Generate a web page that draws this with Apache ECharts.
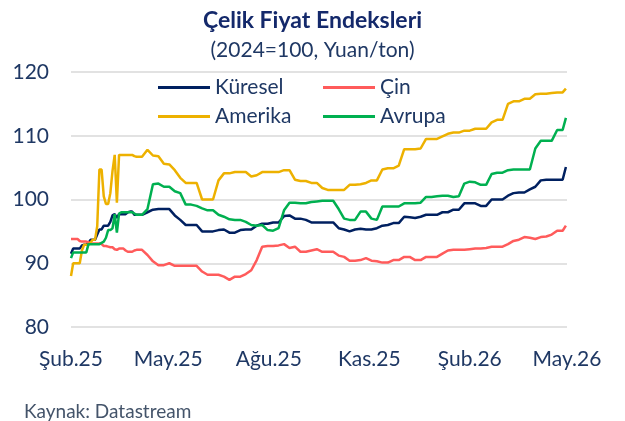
<!DOCTYPE html>
<html>
<head>
<meta charset="utf-8">
<script src="https://cdn.jsdelivr.net/npm/echarts@6/dist/echarts.min.js"></script>
<style>
html,body{margin:0;padding:0;background:#fff;}
#chart{width:625px;height:421px;}
</style>
</head>
<body>
<div id="chart"></div>
<script>
const dates = [
'2025-02-01','2025-02-03','2025-02-05','2025-02-07','2025-02-09','2025-02-11','2025-02-13','2025-02-15','2025-02-17','2025-02-19',
'2025-02-21','2025-02-23','2025-02-25','2025-02-27','2025-03-01','2025-03-03','2025-03-05','2025-03-07','2025-03-09','2025-03-11',
'2025-03-13','2025-03-15','2025-03-17','2025-03-19','2025-03-21','2025-03-23','2025-03-25','2025-03-27','2025-03-29','2025-03-31',
'2025-04-02',
'2025-04-07','2025-04-12','2025-04-17','2025-04-22','2025-04-27','2025-05-02','2025-05-07','2025-05-12','2025-05-17','2025-05-22',
'2025-05-27','2025-06-01','2025-06-06','2025-06-11','2025-06-16','2025-06-21','2025-06-26','2025-07-01','2025-07-06','2025-07-11',
'2025-07-16','2025-07-21','2025-07-26','2025-07-31','2025-08-05','2025-08-10','2025-08-15','2025-08-20','2025-08-25','2025-08-30',
'2025-09-04','2025-09-09','2025-09-14','2025-09-19','2025-09-24','2025-09-29','2025-10-04','2025-10-09','2025-10-14','2025-10-19',
'2025-10-24','2025-10-29','2025-11-03','2025-11-08','2025-11-13','2025-11-18','2025-11-23','2025-11-28','2025-12-03','2025-12-08',
'2025-12-13','2025-12-18','2025-12-23','2025-12-28','2026-01-02','2026-01-07','2026-01-12','2026-01-17','2026-01-22','2026-01-27',
'2026-02-01','2026-02-06','2026-02-11','2026-02-16','2026-02-21','2026-02-26','2026-03-03','2026-03-08','2026-03-13','2026-03-18',
'2026-03-23','2026-03-28','2026-04-02','2026-04-07','2026-04-12','2026-04-17','2026-04-22','2026-04-27','2026-04-30'
];

const kuresel = [
91.5,92.3,92.3,92.3,92.3,92.8,92.9,92.9,93.2,93.7,
93.7,93.7,94.5,95.3,95.3,95.9,95.9,95.9,96.5,97.5,
97.7,97.1,97.7,97.7,97.7,97.7,98.0,98.1,98.1,97.6,
97.6,
97.6,98.0,98.4,98.5,98.5,98.5,97.5,96.8,96.0,96.0,
96.0,95.0,95.0,95.0,95.2,95.3,94.8,94.8,95.2,95.3,
95.3,95.9,96.2,96.2,96.4,96.4,97.4,97.5,97.0,97.0,
96.8,96.4,96.4,96.4,96.4,96.4,95.5,95.3,95.0,95.3,
95.4,95.3,95.3,95.5,95.9,96.0,96.3,96.3,97.3,97.2,
97.1,97.3,97.6,97.6,97.6,98.0,98.0,98.4,98.4,99.4,
99.4,99.4,99.0,99.0,100.0,100.0,100.0,100.6,101.0,101.1,
101.1,101.6,102.0,103.0,103.1,103.1,103.1,103.1,105.1
];

const cin = [
93.8,93.8,93.8,93.8,93.5,93.4,93.4,93.4,93.3,93.1,
93.1,93.1,93.1,93.1,93.0,92.7,92.7,92.6,92.5,92.5,
92.2,92.1,92.3,92.3,92.3,92.0,91.8,91.8,91.8,92.0,
92.1,
92.1,91.3,90.3,89.7,89.7,90.0,89.6,89.6,89.6,89.6,
89.6,88.7,88.2,88.2,88.2,87.9,87.4,87.9,87.9,88.3,
88.9,90.5,92.6,92.7,92.7,92.8,93.0,92.4,92.6,91.8,
91.8,92.0,92.2,91.8,91.8,91.8,91.2,91.0,90.4,90.4,
90.5,90.8,90.4,90.3,90.1,90.1,90.5,90.5,91.0,91.0,
90.5,90.5,91.0,91.0,91.0,91.5,92.0,92.1,92.1,92.1,
92.2,92.3,92.3,92.4,92.6,92.6,92.6,93.0,93.5,93.7,
94.1,94.0,93.8,94.1,94.2,94.5,95.1,95.1,95.9
];

const amerika = [
88.0,90.0,90.0,90.0,90.0,92.0,92.9,92.9,92.9,93.3,
93.7,93.7,95.8,104.7,104.7,100.5,99.3,99.3,101.0,104.5,
107.0,99.5,107.0,107.0,107.0,107.0,107.0,107.0,107.0,106.8,
106.7,
106.7,107.8,106.9,106.8,105.6,105.5,104.6,103.4,102.6,102.6,
102.6,100.0,100.0,100.0,103.0,104.1,104.1,104.3,104.3,104.3,
103.6,103.8,104.3,104.3,104.3,104.3,104.6,104.6,103.1,102.9,
102.9,102.6,102.6,101.8,101.5,101.5,101.5,101.5,102.3,102.3,
102.4,102.6,103.0,103.0,104.7,104.9,104.9,105.3,107.9,107.9,
107.9,108.0,109.5,109.5,109.5,109.9,110.3,110.5,110.5,110.8,
110.8,111.1,111.1,111.1,112.1,112.5,112.5,115.0,115.4,115.4,
115.8,115.8,116.5,116.6,116.6,116.7,116.8,116.8,117.4
];

const avrupa = [
90.8,91.7,91.7,91.7,91.7,91.7,91.7,91.7,93.0,93.0,
93.0,93.0,93.0,93.0,93.2,93.4,94.0,95.2,95.2,95.5,
97.7,94.8,97.8,98.0,98.0,98.0,98.0,98.0,98.0,97.8,
97.6,
97.6,98.5,102.4,102.5,102.0,102.0,101.3,101.0,99.2,99.2,
99.0,98.6,98.3,98.3,97.6,97.3,96.9,96.8,96.8,96.5,
96.0,95.9,96.0,95.2,95.1,95.5,98.3,99.5,99.5,99.4,
99.4,99.6,99.7,99.8,99.8,99.8,98.5,97.0,96.8,96.8,
98.1,98.1,97.0,96.8,98.9,98.9,98.9,98.9,99.4,99.4,
99.4,99.5,100.4,100.4,100.5,100.6,100.6,100.4,100.5,102.5,
102.8,102.7,102.3,102.3,104.0,104.2,104.2,104.6,104.7,104.7,
104.7,104.7,108.0,109.2,109.2,109.2,110.9,110.9,112.8
];

const seriesNames = ['Küresel','Çin','Amerika','Avrupa'];
const seriesColors = ['#002060','#FF5B5B','#EDB100','#00B050'];
const seriesValues = [kuresel, cin, amerika, avrupa];

const tickDates = ['2025-02-01','2025-05-01','2025-08-01','2025-11-01','2026-02-01','2026-05-01'];
const tickLabels = ['Şub.25','May.25','Ağu.25','Kas.25','Şub.26','May.26'];
const yTicks = [80, 90, 100, 110, 120];

const FONT = 'Lato';
const NAVY = '#1F3864';
const toTs = s => { const p = s.split('-').map(Number); return Date.UTC(p[0], p[1]-1, p[2]); };
const tickTs = tickDates.map(toTs);

const chart = echarts.init(document.getElementById('chart'), null, {renderer:'canvas'});

const legendPos = [
  {left:158, top:77},
  {left:323, top:77},
  {left:158, top:106},
  {left:323, top:106}
];

chart.setOption({
  animation:false,
  backgroundColor:'#fff',
  title:[
    {text:'Çelik Fiyat Endeksleri', left:'center', top:4,
     textStyle:{fontFamily:FONT, fontSize:23, fontWeight:'bold', color:'#14296B'}},
    {text:'(2024=100, Yuan/ton)', left:'center', top:35,
     textStyle:{fontFamily:FONT, fontSize:21, fontWeight:'normal', color:NAVY}},
    {text:'Kaynak: Datastream', left:19, top:397,
     textStyle:{fontFamily:FONT, fontSize:19, fontWeight:'normal', color:'#44546A'}}
  ],
  legend: seriesNames.map((n,i)=>({
    data:[n], left:legendPos[i].left, top:legendPos[i].top, padding:0,
    icon:'rect', itemWidth:52, itemHeight:3,
    textStyle:{fontFamily:FONT, fontSize:21, color:NAVY}
  })),
  grid:{left:71, right:58, top:72, bottom:94, containLabel:false},
  xAxis:{
    type:'value',
    min:tickTs[0], max:tickTs[tickTs.length-1],
    axisLine:{show:false}, axisTick:{show:false}, splitLine:{show:false},
    axisLabel:{
      customValues:tickTs,
      formatter:(v)=>{ const i = tickTs.indexOf(v); return i>=0 ? tickLabels[i] : ''; },
      fontFamily:FONT, fontSize:21, color:NAVY, margin:22, hideOverlap:false
    }
  },
  yAxis:{
    type:'value', min:yTicks[0], max:yTicks[yTicks.length-1], interval:10,
    axisLine:{show:false}, axisTick:{show:false},
    splitLine:{lineStyle:{color:'#D9D9D9', width:1.5}},
    axisLabel:{fontFamily:FONT, fontSize:21, color:NAVY, margin:22}
  },
  series: seriesNames.map((n,i)=>({
    name:n, type:'line', showSymbol:false, symbol:'none',
    color:seriesColors[i],
    lineStyle:{width:2.5, color:seriesColors[i]},
    data: dates.map((d,j)=>[toTs(d), seriesValues[i][j]])
  }))
});
</script>
</body>
</html>
